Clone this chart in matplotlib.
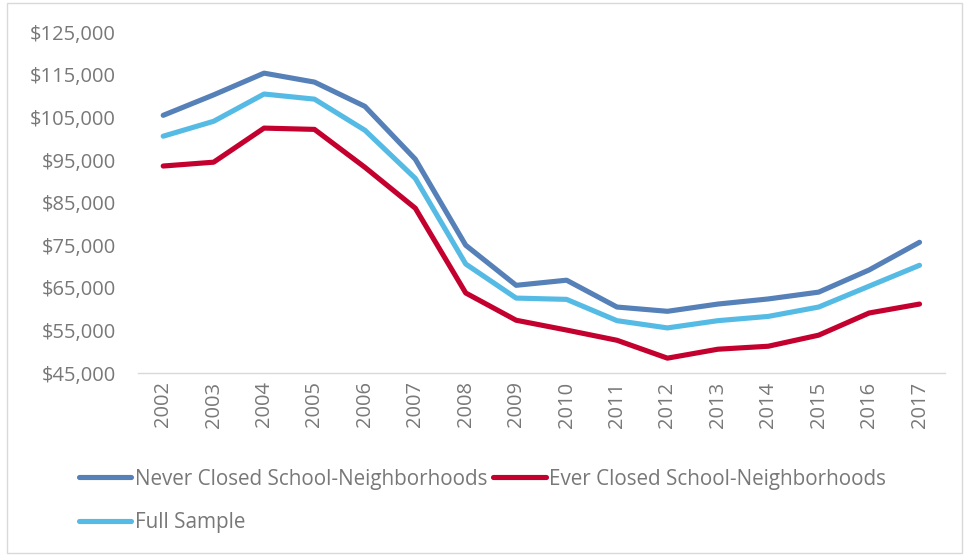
import matplotlib.pyplot as plt
from matplotlib.patches import Rectangle
from matplotlib.ticker import FuncFormatter

plt.rcParams['font.family'] = ['Open Sans', 'DejaVu Sans']

years = ['2002', '2003', '2004', '2005', '2006', '2007', '2008', '2009',
         '2010', '2011', '2012', '2013', '2014', '2015', '2016', '2017']
never_closed = [105500, 110300, 115400, 113300, 107600, 95200, 75000, 65600,
                66800, 60500, 59500, 61200, 62400, 64000, 69200, 75700]
ever_closed = [93600, 94500, 102500, 102200, 93300, 83700, 63800, 57400,
               55100, 52700, 48500, 50600, 51300, 53900, 59100, 61200]
full_sample = [100600, 104100, 110500, 109300, 102000, 90700, 70600, 62600,
               62300, 57300, 55600, 57300, 58300, 60500, 65400, 70300]

grey = '#787878'

fig = plt.figure(figsize=(9.65, 5.56), dpi=100)
ax = fig.add_axes([0.143, 0.329, 0.836, 0.613])

x = range(len(years))
style = dict(lw=3.7, solid_capstyle='round', solid_joinstyle='round')
l_never, = ax.plot(x, never_closed, color='#5580B8', label='Never Closed School-Neighborhoods', **style)
l_ever, = ax.plot(x, ever_closed, color='#C4002F', label='Ever Closed School-Neighborhoods', **style)
l_full, = ax.plot(x, full_sample, color='#55BBE5', label='Full Sample', **style)

ax.set_xlim(-0.5, len(years) - 0.5)
ax.set_ylim(45000, 125000)
ax.set_yticks(range(45000, 125001, 10000))
ax.yaxis.set_major_formatter(FuncFormatter(lambda v, p: f'${v:,.0f}'))
ax.set_xticks(list(x))
ax.set_xticklabels(years, rotation=90)

for side in ['top', 'right', 'left']:
    ax.spines[side].set_visible(False)
ax.spines['bottom'].set_color('#D9D9D9')
ax.spines['bottom'].set_linewidth(1.0)
ax.tick_params(axis='both', length=0, labelsize=14.5, colors=grey)
ax.tick_params(axis='y', pad=16)
ax.tick_params(axis='x', pad=6)

# column-wise fill: first column gets Never + Full, second gets Ever
handles = [l_never, l_full, l_ever]
leg = fig.legend(handles, [h.get_label() for h in handles],
                 loc='upper left', bbox_to_anchor=(0.073, 0.172), ncol=2,
                 frameon=False, fontsize=14.9, handlelength=2.55, handletextpad=0.15,
                 columnspacing=0.3, labelspacing=1.1, borderaxespad=0)
for t in leg.get_texts():
    t.set_color(grey)

fig.patches.append(Rectangle((0.007, 0.005), 0.99, 0.99, transform=fig.transFigure,
                             fill=False, edgecolor='#D9D9D9', lw=1.0))

fig.savefig('out.png', dpi=100)
